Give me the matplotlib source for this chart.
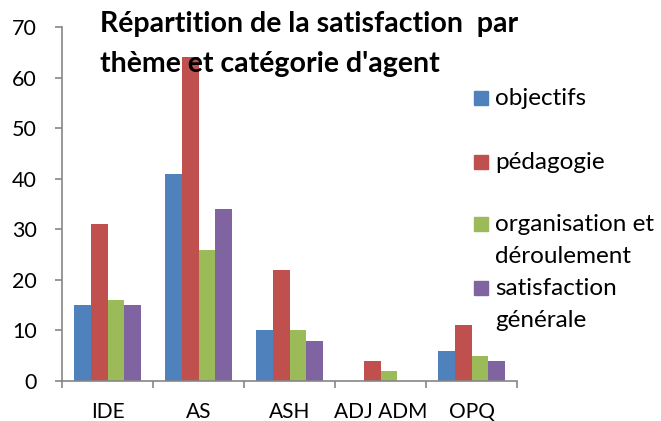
import matplotlib
matplotlib.use("Agg")
import matplotlib.pyplot as plt
import numpy as np
from matplotlib.patches import Rectangle

categories = ["IDE", "AS", "ASH", "ADJ ADM", "OPQ"]
series_names = ["objectifs", "pédagogie", "organisation et\ndéroulement", "satisfaction\ngénérale"]
objectifs = [15, 41, 10, 0, 6]
pedagogie = [31, 64, 22, 4, 11]
organisation = [16, 26, 10, 2, 5]
satisfaction = [15, 34, 8, 0, 4]
yticks = [0, 10, 20, 30, 40, 50, 60, 70]
title_lines = ["Répartition de la satisfaction  par", "thème et catégorie d'agent"]

colors = ["#4F81BD", "#C0504D", "#9BBB59", "#8064A2"]
plt.rcParams['font.family'] = ['Lato', 'DejaVu Sans']

W, H = 661, 421
fig = plt.figure(figsize=(W / 100, H / 100), dpi=100)
ax = fig.add_axes([62 / W, 1 - 381 / H, (517 - 62) / W, (381 - 27) / H])

values = [objectifs, pedagogie, organisation, satisfaction]
x = np.arange(len(categories))
w = 1 / 5.5
for i, (vals, c) in enumerate(zip(values, colors)):
    ax.bar(x + (i - 1.5) * w, vals, width=w, color=c, edgecolor='none')

ax.set_xlim(-0.5, len(categories) - 0.5)
ax.set_ylim(0, 70)
ax.set_yticks(yticks)
ax.set_xticks(x)
ax.set_xticklabels(categories)
ax.set_xticks(np.arange(-0.5, len(categories)), minor=True)
gray = "#868686"
for s in ["top", "right"]:
    ax.spines[s].set_visible(False)
for s in ["left", "bottom"]:
    ax.spines[s].set_color(gray)
    ax.spines[s].set_linewidth(1.2)
ax.tick_params(axis='y', direction='out', length=5, width=1.2, color=gray, labelsize=15.5, pad=13)
ax.tick_params(axis='x', which='major', length=0, labelsize=15, pad=15)
ax.tick_params(axis='x', which='minor', direction='out', length=5, width=1.2, color=gray)

fig.text(100 / W, 1 - 32 / H, title_lines[0], fontsize=20.5, fontweight='bold', va='baseline', ha='left')
fig.text(100 / W, 1 - 72 / H, title_lines[1], fontsize=20.5, fontweight='bold', va='baseline', ha='left')

# legend (handle aligned with the first line of each entry)
legend_base = [105, 169, 231, 295]
for name, c, yb in zip(series_names, colors, legend_base):
    fig.patches.append(Rectangle((474 / W, 1 - yb / H), 14 / W, 14 / H,
                                 transform=fig.transFigure, color=c))
    for k, line in enumerate(name.split("\n")):
        fig.text(495 / W, 1 - (yb + 32 * k) / H, line, fontsize=17.5, va='baseline', ha='left')

fig.savefig("out.png", dpi=100)
